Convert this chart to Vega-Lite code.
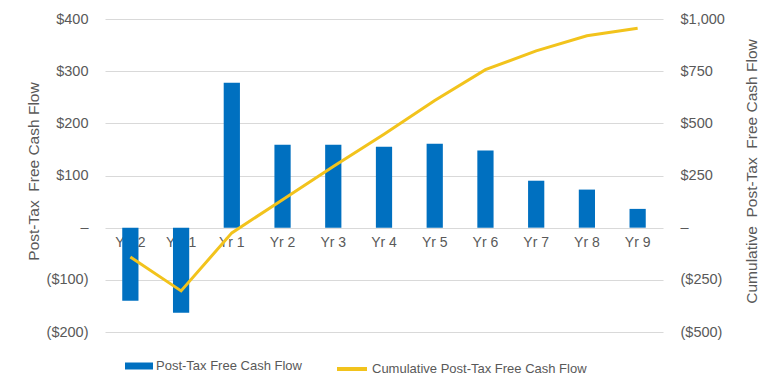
{
  "$schema": "https://vega.github.io/schema/vega-lite/v6.json",
  "width": 558,
  "height": 313,
  "autosize": {"type": "none"},
  "padding": {"left": 105, "top": 19, "right": 117, "bottom": 57},
  "background": "white",
  "config": {
    "font": "Liberation Sans",
    "view": {"stroke": null},
    "axis": {"labelFont": "Liberation Sans", "titleFont": "Liberation Sans", "labelColor": "#595959", "titleColor": "#595959", "labelFontSize": 14.5, "titleFontSize": 15.5, "titleFontWeight": "normal"},
    "legend": {"labelFont": "Liberation Sans", "labelColor": "#595959", "labelFontSize": 13, "labelLimit": 400}
  },
  "data": {
    "values": [
      {"yr": "Yr -2", "fcf": -140, "cum": -140},
      {"yr": "Yr -1", "fcf": -163, "cum": -303},
      {"yr": "Yr 1", "fcf": 278, "cum": -25},
      {"yr": "Yr 2", "fcf": 159, "cum": 134},
      {"yr": "Yr 3", "fcf": 159, "cum": 293},
      {"yr": "Yr 4", "fcf": 155, "cum": 448},
      {"yr": "Yr 5", "fcf": 161, "cum": 609},
      {"yr": "Yr 6", "fcf": 148, "cum": 757},
      {"yr": "Yr 7", "fcf": 90, "cum": 847},
      {"yr": "Yr 8", "fcf": 73, "cum": 920},
      {"yr": "Yr 9", "fcf": 36, "cum": 956}
    ]
  },
  "encoding": {
    "x": {"field": "yr", "type": "ordinal", "sort": null, "axis": null,
          "scale": {"paddingInner": 0.68, "paddingOuter": 0.34}}
  },
  "layer": [
    {
      "layer": [
        {
          "mark": {"type": "text", "fontSize": 14, "color": "#595959", "dy": 15, "baseline": "middle", "font": "Liberation Sans"},
          "encoding": {
            "y": {"datum": 0, "type": "quantitative"},
            "text": {"field": "yr"}
          }
        },
        {
          "mark": {"type": "bar"},
          "encoding": {
            "y": {"field": "fcf", "type": "quantitative",
                  "scale": {"domain": [-200, 400], "nice": false, "zero": false},
                  "axis": {"title": "Post-Tax\u00a0\u00a0Free Cash Flow", "values": [-200, -100, 0, 100, 200, 300, 400],
                           "domain": false, "ticks": false, "grid": true, "gridColor": "#d9d9d9", "gridWidth": 1, "labelPadding": 17,
                           "labelExpr": "datum.value == 0 ? '–\u00a0\u2009' : datum.value < 0 ? '($' + format(-datum.value, ',') + ')' : '$' + format(datum.value, ',') + '\u00a0'",
                           "titleX": -72, "titleY": 152, "titleAngle": -90, "titleBaseline": "middle", "titleAlign": "center"}},
            "fill": {"datum": "Post-Tax Free Cash Flow", "type": "nominal",
                     "scale": {"range": ["#0070C0"]},
                     "legend": {"title": null, "orient": "none", "legendX": 20, "legendY": 333,
                                "symbolType": "M-1,-0.25H1V0.25H-1Z", "symbolSize": 784, "symbolStrokeWidth": 0, "labelOffset": 3}}
          }
        }
      ]
    },
    {
      "mark": {"type": "line", "strokeWidth": 3},
      "encoding": {
        "y": {"field": "cum", "type": "quantitative",
              "scale": {"domain": [-500, 1000], "nice": false, "zero": false},
              "axis": {"orient": "right", "title": "Cumulative\u00a0\u00a0Post-Tax\u00a0\u00a0Free Cash Flow", "values": [-500, -250, 0, 250, 500, 750, 1000],
                       "domain": false, "ticks": false, "grid": false, "labelPadding": 17,
                       "labelExpr": "datum.value == 0 ? '\u00a0\u00a0–' : datum.value < 0 ? '($' + format(-datum.value, ',') + ')' : '\u00a0$' + format(datum.value, ',')",
                       "titleX": 88, "titleY": 152, "titleAngle": -90, "titleBaseline": "middle", "titleAlign": "center"}},
        "stroke": {"datum": "Cumulative Post-Tax Free Cash Flow", "type": "nominal",
                   "scale": {"range": ["#F2C31C"]},
                   "legend": {"title": null, "orient": "none", "legendX": 230, "legendY": 333,
                              "symbolType": "stroke", "symbolSize": 900, "symbolStrokeWidth": 4, "labelOffset": 3}}
      }
    }
  ],
  "resolve": {"scale": {"y": "independent"}}
}
